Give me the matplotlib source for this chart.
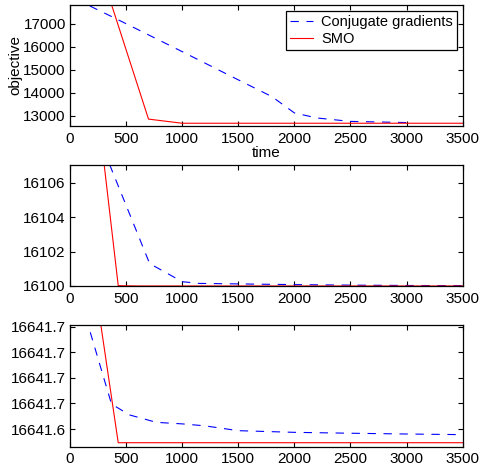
import matplotlib
matplotlib.use("Agg")
import matplotlib.pyplot as plt
from matplotlib.ticker import FixedLocator, FormatStrFormatter

plt.rcParams['font.family'] = ['Liberation Sans', 'DejaVu Sans']
plt.rcParams['font.size'] = 11
plt.rcParams['lines.scale_dashes'] = False

# ---- datos ----
x_ticks = [0, 500, 1000, 1500, 2000, 2500, 3000, 3500]

# panel 1
cg1_t = [0, 400, 1000, 1500, 1800, 2000, 2200, 2500, 3000]
cg1_v = [18200, 17250, 15790, 14560, 13830, 13120, 12900, 12750, 12700]
smo1_t = [300, 700, 1000, 2000, 3000, 3500]
smo1_v = [18900, 12850, 12670, 12670, 12670, 12670]
y1_ticks = [13000, 14000, 15000, 16000, 17000]
y1_lim = (12550, 17830)

# panel 2
cg2_t = [300, 710, 1000, 1150, 1500, 2000, 2500, 3000, 3500]
cg2_v = [16107.9, 16101.3, 16100.25, 16100.15, 16100.12, 16100.08, 16100.05, 16100.03, 16100.02]
smo2_t = [300, 430, 600, 1000, 2000, 3000, 3500]
smo2_v = [16107.3, 16100.02, 16100.0, 16100.0, 16100.0, 16100.0, 16100.0]
y2_ticks = [16100, 16102, 16104, 16106]
y2_lim = (16100, 16107.03)

# panel 3
cg3_t = [100, 370, 530, 770, 1000, 1200, 1500, 2000, 2500, 3000, 3500]
cg3_v = [16641.7394, 16641.6595, 16641.6510, 16641.6452, 16641.6440, 16641.6425,
         16641.6387, 16641.6374, 16641.6367, 16641.6361, 16641.6356]
smo3_t = [200, 430, 1000, 2000, 3000, 3500]
smo3_v = [16641.7657, 16641.6293, 16641.6293, 16641.6293, 16641.6293, 16641.6293]
y3_ticks = [16641.64, 16641.66, 16641.68, 16641.70, 16641.72]
y3_lim = (16641.6262, 16641.7208)

fig = plt.figure(figsize=(4.79, 4.67), dpi=100)
left, width, height = 0.1461, 0.8198, 0.2595
bottoms = [0.7302, 0.3876, 0.0435]

paneles = [
    (cg1_t, cg1_v, smo1_t, smo1_v, y1_ticks, y1_lim, '%d'),
    (cg2_t, cg2_v, smo2_t, smo2_v, y2_ticks, y2_lim, '%d'),
    (cg3_t, cg3_v, smo3_t, smo3_v, y3_ticks, y3_lim, '%.1f'),
]

axes = []
for b, (ct, cv, st, sv, yt, yl, fmt) in zip(bottoms, paneles):
    ax = fig.add_axes([left, b, width, height])
    ax.plot(ct, cv, color='b', lw=0.8, dashes=(6, 5.5), label='Conjugate gradients')
    ax.plot(st, sv, color='r', lw=0.8, label='SMO')
    ax.set_xlim(0, 3500)
    ax.set_ylim(*yl)
    ax.xaxis.set_major_locator(FixedLocator(x_ticks))
    ax.yaxis.set_major_locator(FixedLocator(yt))
    ax.yaxis.set_major_formatter(FormatStrFormatter(fmt))
    ax.tick_params(direction='in', top=True, right=True, length=3.5, width=0.8, pad=4,
                   labelsize=11)
    ax.tick_params(axis='y', pad=3)
    for s in ax.spines.values():
        s.set_linewidth(0.9)
    axes.append(ax)

axes[0].set_xlabel('time', labelpad=0)
axes[0].set_ylabel('objective', labelpad=1)
leg = axes[0].legend(loc='upper right', bbox_to_anchor=(0.985, 0.945), fancybox=False,
                     framealpha=1, edgecolor='black', handlelength=1.6, handletextpad=0.55,
                     borderpad=0.25, labelspacing=0.2, borderaxespad=0, fontsize=10.5)
leg.get_frame().set_linewidth(0.9)

fig.savefig('out.png', dpi=100)
